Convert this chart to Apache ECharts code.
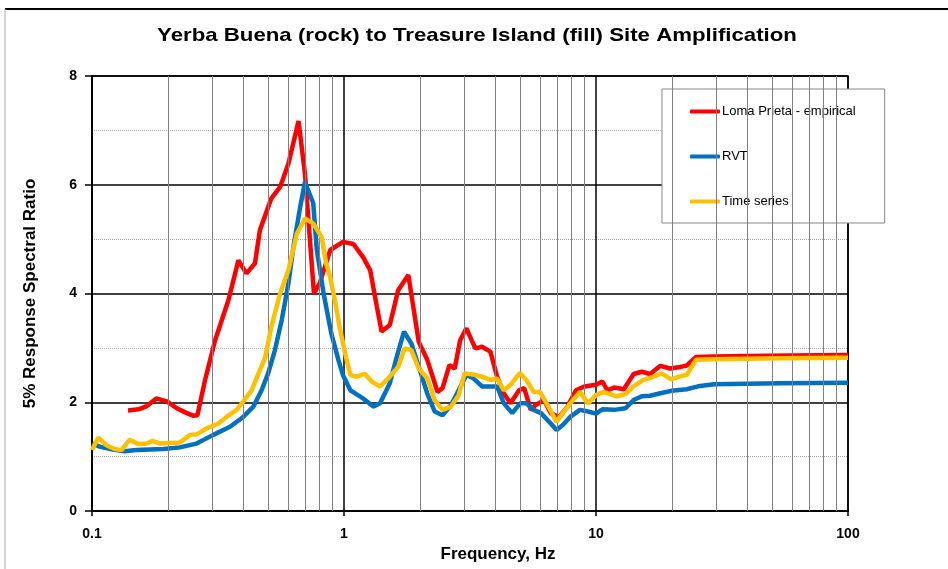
<!DOCTYPE html>
<html>
<head>
<meta charset="utf-8">
<script src="https://cdn.jsdelivr.net/npm/echarts@6/dist/echarts.min.js"></script>
<style>
  html, body { margin: 0; padding: 0; background: #fff; }
  #chart { width: 948px; height: 569px; }
</style>
</head>
<body>
<div id="chart"></div>
<script>
// data
var lomaFreq = [0.139, 0.153, 0.165, 0.18, 0.199, 0.217, 0.238, 0.253, 0.262, 0.281, 0.308, 0.348, 0.381, 0.41, 0.443,
    0.464, 0.515, 0.558, 0.602, 0.66, 0.70, 0.76, 0.801, 0.882, 0.99, 1.09, 1.19, 1.27, 1.35, 1.41, 1.52, 1.64, 1.8,
    1.98, 2.14, 2.35, 2.46, 2.62, 2.75, 2.89, 3.06, 3.32, 3.53, 3.81, 4.05, 4.31, 4.58, 4.95, 5.19, 5.51, 5.77, 6.22,
    6.61, 7.14, 7.71, 8.33, 8.99, 10, 10.6, 11.1, 11.8, 12.9, 14.1, 15.2, 16.4, 18, 19.7, 21.6, 22.8, 24.9, 29.4, 39.7,
    60, 100];
var lomaRatio = [1.85, 1.87, 1.93, 2.07, 2.01, 1.89, 1.80, 1.75, 1.76, 2.41, 3.14, 3.88, 4.61, 4.37, 4.55,
    5.17, 5.75, 5.96, 6.39, 7.17, 6.2, 4.0, 4.19, 4.80, 4.95, 4.91, 4.67, 4.43, 3.76, 3.30, 3.42, 4.06, 4.34,
    3.11, 2.78, 2.19, 2.26, 2.68, 2.62, 3.14, 3.36, 2.99, 3.02, 2.93, 2.47, 2.16, 1.98, 2.22, 2.26, 1.86, 1.95, 2.04,
    1.80, 1.73, 1.92, 2.22, 2.29, 2.32, 2.38, 2.22, 2.27, 2.24, 2.52, 2.56, 2.52, 2.67, 2.62, 2.65, 2.67, 2.83, 2.84, 2.85,
    2.86, 2.87];

var rvtFreq = [0.1, 0.108, 0.121, 0.135, 0.15, 0.192, 0.223, 0.26, 0.303, 0.353, 0.398, 0.437, 0.471, 0.5, 0.532,
    0.566, 0.602, 0.63, 0.67, 0.70, 0.755, 0.78, 0.83, 0.89, 0.95, 0.99, 1.06, 1.19, 1.31, 1.39, 1.52, 1.62, 1.73,
    1.85, 2.0, 2.14, 2.29, 2.46, 2.66, 2.85, 3.06, 3.26, 3.53, 4.05, 4.31, 4.65, 5.0, 5.29, 5.66, 6.05, 6.61, 6.98,
    7.38, 7.9, 8.63, 9.3, 10, 10.6, 11.8, 13.1, 14.1, 15.2, 16.4, 18.2, 19.9, 22.9, 25.9, 29.4, 39.7, 54, 100];
var rvtRatio = [1.24, 1.18, 1.13, 1.10, 1.12, 1.14, 1.17, 1.24, 1.40, 1.55, 1.73, 1.92, 2.22, 2.53, 2.96,
    3.51, 4.19, 4.86, 5.59, 6.05, 5.66, 4.80, 4.0, 3.27, 2.78, 2.5, 2.22, 2.07, 1.92, 1.98, 2.35, 2.84, 3.30,
    3.08, 2.59, 2.16, 1.83, 1.76, 1.95, 2.22, 2.50, 2.44, 2.29, 2.29, 1.98, 1.80, 1.98, 1.98, 1.86, 1.80, 1.61, 1.49,
    1.58, 1.73, 1.86, 1.83, 1.79, 1.87, 1.86, 1.89, 2.04, 2.11, 2.12, 2.17, 2.21, 2.24, 2.30, 2.33, 2.34, 2.35, 2.36];

var timeFreq = [0.1, 0.106, 0.114, 0.123, 0.131, 0.141, 0.153, 0.165, 0.174, 0.186, 0.223, 0.245, 0.26, 0.285, 0.317,
    0.342, 0.375, 0.398, 0.43, 0.458, 0.486, 0.515, 0.558, 0.602, 0.65, 0.70, 0.755, 0.815, 0.85, 0.88, 0.92, 0.96,
    1.01, 1.06, 1.12, 1.21, 1.29, 1.39, 1.50, 1.64, 1.74, 1.85, 1.98, 2.14, 2.29, 2.46, 2.66, 2.85, 3.01, 3.26, 3.53,
    3.81, 4.05, 4.31, 4.58, 4.99, 5.29, 5.66, 5.99, 6.47, 6.98, 7.38, 7.9, 8.63, 9.3, 10, 10.7, 12.1, 13.1, 14.1, 15.4,
    16.7, 18.2, 19.9, 21.6, 22.9, 24.9, 29.4, 54, 100];
var timeRatio = [1.12, 1.35, 1.21, 1.14, 1.12, 1.31, 1.23, 1.24, 1.29, 1.24, 1.26, 1.40, 1.41, 1.52, 1.61,
    1.73, 1.86, 2.01, 2.22, 2.53, 2.81, 3.39, 4.0, 4.43, 5.10, 5.38, 5.29, 5.04, 4.55, 4.31, 3.88, 3.39,
    2.90, 2.50, 2.47, 2.52, 2.38, 2.29, 2.44, 2.65, 2.99, 2.96, 2.62, 2.44, 2.04, 1.86, 1.92, 2.13, 2.53, 2.51, 2.47,
    2.41, 2.44, 2.22, 2.32, 2.54, 2.41, 2.19, 2.19, 1.92, 1.64, 1.80, 1.98, 2.19, 1.98, 2.13, 2.19, 2.11, 2.15, 2.29, 2.41,
    2.46, 2.53, 2.42, 2.48, 2.50, 2.78, 2.79, 2.81, 2.82];

// minor log grid positions (2..9 in each decade)
var minorFreq = [0.2, 0.3, 0.4, 0.5, 0.6, 0.7, 0.8, 0.9, 2, 3, 4, 5, 6, 7, 8, 9, 20, 30, 40, 50, 60, 70, 80, 90];

function pairs(xs, ys) {
    return xs.map(function (x, i) { return [x, ys[i]]; });
}

var FONT = 'Liberation Sans';
var myChart = echarts.init(document.getElementById('chart'));

var option = {
    backgroundColor: '#fff',
    animation: false,
    graphic: [
        { type: 'line', shape: { x1: 5, y1: 9, x2: 948, y2: 9 }, style: { stroke: '#000', lineWidth: 2 } },
        { type: 'line', shape: { x1: 5, y1: 9, x2: 5, y2: 569 }, style: { stroke: '#aaa', lineWidth: 1 } },
        {
            // chart title, stretched a little like the original
            type: 'text',
            x: 477, y: 36,
            scaleX: 1.17,
            style: {
                text: 'Yerba Buena (rock) to Treasure Island (fill) Site Amplification',
                x: 0, y: 0,
                textAlign: 'center', textVerticalAlign: 'middle',
                font: 'bold 19px "Liberation Sans"',
                fill: '#000'
            }
        }
    ],
    grid: {
        left: 92, right: 100, top: 76, bottom: 58,
        show: true, borderColor: '#000', borderWidth: 1.5
    },
    legend: {
        orient: 'vertical',
        left: 662, top: 89,
        padding: [16, 29, 15, 28],
        itemGap: 32,
        itemWidth: 30, itemHeight: 4,
        icon: 'roundRect',
        backgroundColor: '#fff',
        borderColor: '#888', borderWidth: 1,
        textStyle: { fontFamily: FONT, fontSize: 13, color: '#000', padding: [0, 0, 0, -3] },
        data: ['Loma Prieta - empirical', 'RVT', 'Time series']
    },
    xAxis: {
        type: 'log',
        logBase: 10,
        min: 0.1, max: 100,
        name: 'Frequency, Hz',
        nameLocation: 'middle',
        nameGap: 34,
        nameTextStyle: { fontFamily: FONT, fontSize: 17, fontWeight: 'bold', color: '#000', padding: [0, 0, 0, 56] },
        axisLine: { lineStyle: { color: '#000', width: 2 } },
        axisTick: { show: true, length: 5, lineStyle: { color: '#000', width: 1.5 } },
        axisLabel: {
            fontFamily: FONT, fontSize: 14, fontWeight: 'bold', color: '#000', margin: 16,
            formatter: function (v) { return String(+v.toPrecision(3)); }
        },
        splitLine: { show: true, lineStyle: { color: '#000', width: 1.5 } }
    },
    yAxis: {
        type: 'value',
        min: 0, max: 8, interval: 2,
        name: '5% Response Spectral Ratio',
        nameLocation: 'middle',
        nameGap: 53,
        nameTextStyle: { fontFamily: FONT, fontSize: 17, fontWeight: 'bold', color: '#000' },
        axisLine: { show: true, lineStyle: { color: '#000', width: 2 } },
        axisTick: { show: true, length: 7, lineStyle: { color: '#000', width: 1.5 } },
        minorTick: { show: false, splitNumber: 2 },
        minorSplitLine: { show: true, lineStyle: { color: '#aaa', type: 'dotted', width: 1 } },
        axisLabel: { fontFamily: FONT, fontSize: 14, fontWeight: 'bold', color: '#000', margin: 15 },
        splitLine: { show: true, lineStyle: { color: '#000', width: 1.5 } }
    },
    series: [
        {
            name: 'minor grid',
            type: 'line',
            data: [],
            z: 1,
            silent: true,
            markLine: {
                silent: true,
                symbol: 'none',
                label: { show: false },
                animation: false,
                lineStyle: { color: '#808080', width: 1, type: 'solid' },
                data: minorFreq.map(function (f) { return { xAxis: f }; })
            }
        },
        {
            name: 'Loma Prieta - empirical',
            type: 'line',
            z: 3,
            symbol: 'none',
            color: '#ff0000',
            lineStyle: { color: '#ff0000', width: 4.5 },
            data: pairs(lomaFreq, lomaRatio)
        },
        {
            name: 'RVT',
            type: 'line',
            z: 4,
            symbol: 'none',
            color: '#0070c0',
            lineStyle: { color: '#0070c0', width: 4.5 },
            data: pairs(rvtFreq, rvtRatio)
        },
        {
            name: 'Time series',
            type: 'line',
            z: 5,
            symbol: 'none',
            color: '#ffc000',
            lineStyle: { color: '#ffc000', width: 4.5 },
            data: pairs(timeFreq, timeRatio)
        }
    ]
};

myChart.setOption(option);
</script>
</body>
</html>
